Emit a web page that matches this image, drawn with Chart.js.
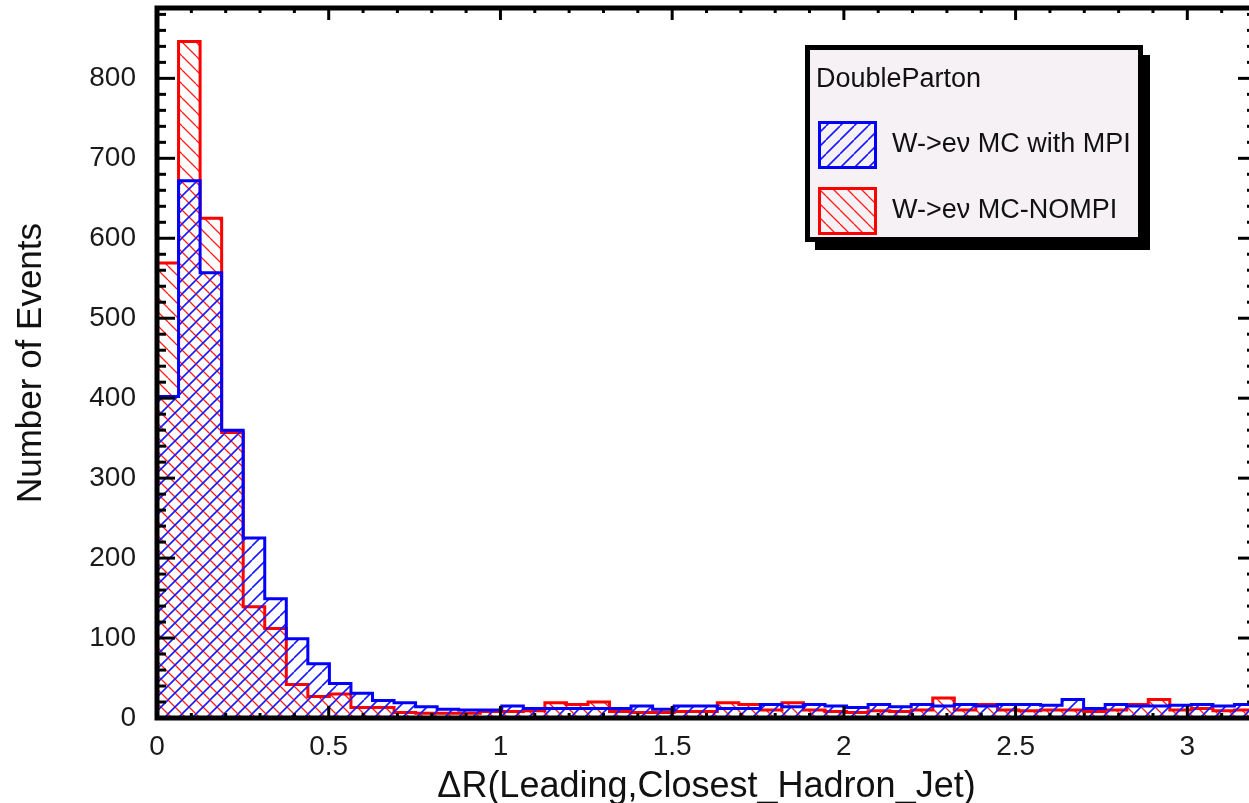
<!DOCTYPE html>
<html>
<head>
<meta charset="utf-8">
<script src="https://cdn.jsdelivr.net/npm/chart.js@4.4.1/dist/chart.umd.min.js"></script>
<style>
    html, body { margin: 0; padding: 0; background: #fff; overflow: hidden; }
    #wrap { width: 1280px; height: 803px; }
</style>
</head>
<body>
<div id="wrap"><canvas id="js--chart" width="1280" height="803"></canvas></div>
<script>
// histogram binning (the frame is cut at the right edge, like the picture)
const xMin = 0, xMax = 3.2, nBins = 51;

const xTickLabels = [0, 0.5, 1, 1.5, 2, 2.5, 3];
const yTickLabels = [0, 100, 200, 300, 400, 500, 600, 700, 800];

const legendTitle = "DoubleParton";
const labels = ["W->e\u03bd MC with MPI", "W->e\u03bd MC-NOMPI"];

// events per bin
const withMPI = [402, 672, 557, 360, 225, 149, 99, 68, 43, 31,
                 22, 19, 14, 11, 10, 10, 15, 12, 12, 12,
                 12, 12, 15, 11, 15, 15, 12, 12, 17, 14,
                 17, 15, 13, 17, 14, 17, 15, 17, 15, 17,
                 17, 16, 23, 12, 17, 15, 15, 16, 17, 15,
                 17];
const noMPI = [569, 846, 625, 357, 139, 112, 42, 27, 30, 13,
               13, 7, 6, 6, 6, 8, 8, 9, 19, 17,
               20, 8, 7, 7, 8, 8, 19, 17, 10, 19,
               10, 8, 7, 9, 8, 10, 25, 10, 17, 10,
               9, 10, 10, 8, 10, 17, 23, 10, 12, 9,
               10];

const canvas = document.getElementById("js--chart");
const mainCtx = canvas.getContext("2d");

function hatch(color, dir, lw) {
    const s = 14;
    const c = document.createElement("canvas");
    c.width = s; c.height = s;
    const g = c.getContext("2d");
    g.strokeStyle = color;
    g.lineWidth = lw;
    g.beginPath();
    for (let k = -1; k <= 1; k++) {
        if (dir === "/") { g.moveTo(k * s, s); g.lineTo(k * s + s, 0); }
        else { g.moveTo(k * s, 0); g.lineTo(k * s + s, s); }
    }
    g.stroke();
    return mainCtx.createPattern(c, "repeat");
}

// left edge of every bin + closing point, drawn as steps
function steps(values) {
    const w = (xMax - xMin) / nBins;
    const pts = values.map((v, i) => ({x: xMin + i * w, y: v}));
    pts.push({x: xMax, y: values[values.length - 1]});
    return pts;
}

const blueHatch = hatch("#1a1aff", "/", 1.6);
const redHatch = hatch("#ff1a1a", "\\", 1.3);

const FONT = "'Liberation Sans', Arial, Helvetica, sans-serif";

function noPad(s) {
    s.paddingTop = 0; s.paddingBottom = 0; s.paddingLeft = 0; s.paddingRight = 0;
}

const framePlugin = {
    id: "frame",
    afterDatasetsDraw(chart) {
        const {ctx, chartArea: a, scales: {x, y}} = chart;
        ctx.save();
        ctx.strokeStyle = "#000";
        ctx.lineCap = "butt";

        function seg(x1, y1, x2, y2) {
            ctx.beginPath(); ctx.moveTo(x1, y1); ctx.lineTo(x2, y2); ctx.stroke();
        }

        // ticks on all four sides, pointing inwards
        ctx.lineWidth = 3;
        for (let v = 0; v <= y.max; v += 20) {
            const py = y.getPixelForValue(v);
            const len = v % 100 === 0 ? 18 : 9;
            seg(a.left, py, a.left + len, py);
            seg(a.right, py, a.right - len, py);
        }
        for (let k = 0; k * 0.1 <= x.max + 1e-9; k++) {
            const px = x.getPixelForValue(k * 0.1);
            const len = k % 5 === 0 ? 12 : 5;
            seg(px, a.bottom, px, a.bottom - len);
            seg(px, a.top, px, a.top + len);
        }
        ctx.lineWidth = 5;
        ctx.strokeRect(a.left, a.top, a.right - a.left, a.bottom - a.top);

        // axis titles
        ctx.fillStyle = "#111";
        ctx.textAlign = "center";
        ctx.textBaseline = "middle";
        ctx.font = "36px " + FONT;
        ctx.fillText("\u0394R(Leading,Closest_Hadron_Jet)", (a.left + a.right) / 2, 787);
        ctx.save();
        ctx.translate(31, (a.top + a.bottom) / 2);
        ctx.rotate(-Math.PI / 2);
        ctx.font = "35px " + FONT;
        ctx.fillText("Number of Events", 0, 0);
        ctx.restore();

        // legend box with shadow
        ctx.fillStyle = "#000";
        ctx.fillRect(815, 55, 335, 195);
        ctx.fillStyle = "#f5f1f5";
        ctx.fillRect(807.5, 47.5, 333, 192);
        ctx.lineWidth = 5;
        ctx.strokeRect(807.5, 47.5, 333, 192);

        ctx.textAlign = "left";
        ctx.fillStyle = "#111";
        ctx.font = "27px " + FONT;
        ctx.fillText(legendTitle, 816, 80);

        const entries = [
            {text: labels[0], color: "#0000ff", fill: blueHatch, top: 121},
            {text: labels[1], color: "#ff0000", fill: redHatch, top: 187}
        ];
        entries.forEach(function (e) {
            ctx.fillStyle = e.fill;
            ctx.fillRect(819.5, e.top + 1.5, 56, 45);
            ctx.strokeStyle = e.color;
            ctx.lineWidth = 3;
            ctx.strokeRect(819.5, e.top + 1.5, 56, 45);
            ctx.fillStyle = "#111";
            ctx.fillText(e.text, 892, e.top + 24);
        });
        ctx.restore();
    }
};

const config = {
    type: "line",
    data: {
        datasets: [
            {
                label: labels[0],
                data: steps(withMPI),
                stepped: true,
                borderColor: "#0000ff",
                borderWidth: 3,
                backgroundColor: blueHatch,
                fill: "origin",
                pointRadius: 0,
                borderJoinStyle: "miter"
            },
            {
                label: labels[1],
                data: steps(noMPI),
                stepped: true,
                borderColor: "#ff0000",
                borderWidth: 3,
                backgroundColor: redHatch,
                fill: "origin",
                pointRadius: 0,
                borderJoinStyle: "miter"
            }
        ]
    },
    options: {
        responsive: false,
        animation: false,
        events: [],
        layout: {padding: {top: 8, right: 24, left: 0, bottom: 0}},
        plugins: {legend: {display: false}, tooltip: {enabled: false}},
        scales: {
            x: {
                type: "linear",
                min: xMin,
                max: xMax,
                grid: {display: false, drawTicks: false},
                border: {display: false},
                afterBuildTicks: s => { s.ticks = xTickLabels.map(v => ({value: v})); },
                afterFit: s => { s.height = 85; noPad(s); },
                ticks: {
                    padding: 12, color: "#1a1a1a", maxRotation: 0,
                    font: {family: FONT, size: 28},
                    callback: v => String(v)
                }
            },
            y: {
                min: 0,
                max: 888,
                grid: {display: false, drawTicks: false},
                border: {display: false},
                afterBuildTicks: s => { s.ticks = yTickLabels.map(v => ({value: v})); },
                afterFit: s => { s.width = 157; noPad(s); },
                ticks: {padding: 21, color: "#1a1a1a", font: {family: FONT, size: 28}}
            }
        }
    },
    plugins: [framePlugin]
};

new Chart(canvas, config);
</script>
</body>
</html>
